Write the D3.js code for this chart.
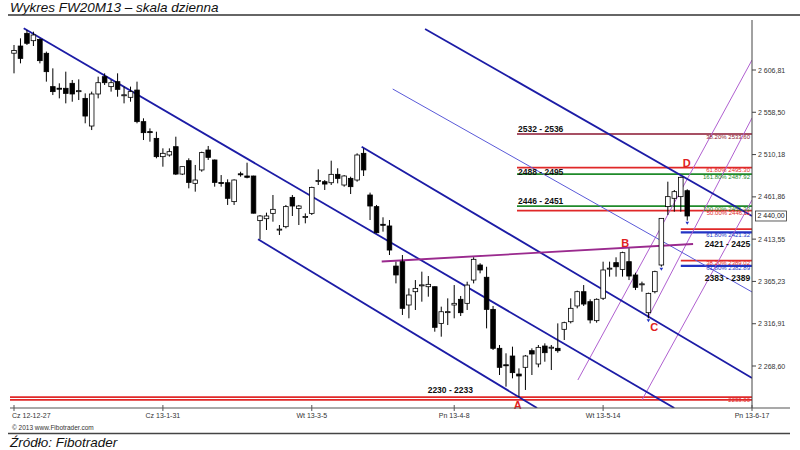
<!DOCTYPE html>
<html><head><meta charset="utf-8">
<script src="https://cdn.jsdelivr.net/npm/d3@7"></script>
<style>
body{margin:0;background:#fff}
svg{display:block}
text{font-family:Arial,"Liberation Sans",sans-serif}
</style>
</head><body>
<svg id="c" width="800" height="450"></svg>
<script>
// ---------- DATA ----------
const openP  = [2626,2634.2,2648.7,2640.3,2641.8,2625.9,2587.8,2586,2585.9,2591.6,2583.2,2574.4,2542.8,2579.4,2599.2,2587.8,2593.5,2578.2,2575.6,2583.9,2547.8,2536.4,2528.7,2507.8,2509.7,2519.2,2487.9,2503.2,2477.3,2492.6,2515.4,2504,2478.2,2478,2456.4,2488.2,2485.7,2485.7,2434.7,2436.9,2443,2424.8,2427.8,2461.3,2448.7,2439.2,2443,2480.4,2479.2,2478,2487.6,2475.4,2483,2481.1,2511.6,2464,2450.7,2430.5,2428.6,2382.8,2387.8,2338.3,2353.5,2361.1,2359.2,2359.2,2317.3,2330.5,2338.3,2344.8,2340.2,2366.8,2384,2370,2333.3,2288.8,2270,2280,2259.4,2267.1,2286.1,2270.9,2291.4,2289.9,2288.8,2310.5,2319.2,2337.2,2353.5,2342.1,2320.4,2346,2380.2,2386.7,2379,2387.8,2372.6,2362.3,2329.5,2353.5,2384,2450.7,2460.2,2462.1,2468.9];
const highP  = [2635.4,2643,2652.5,2650.6,2643,2627.8,2608.7,2591.6,2604.9,2595.4,2596.1,2580.1,2582.1,2599.2,2603,2595.4,2603,2587.8,2587.8,2593.5,2551.6,2540.1,2536.3,2517.3,2517.3,2530.6,2496.4,2505.9,2498.3,2513.5,2520,2504.5,2486.8,2481.9,2481.9,2490.6,2500.9,2486,2441.1,2443.8,2464,2429.7,2452.6,2464,2452.6,2443,2473.5,2493.3,2481.1,2503.2,2494.5,2486.8,2484.9,2511.6,2517.3,2466.7,2452.6,2438.5,2435.4,2387.8,2395.4,2357.3,2366.8,2376.4,2371.4,2359.5,2336.4,2345.9,2361.1,2348.6,2364.9,2392.8,2386,2382,2337.2,2292.6,2283.1,2290.7,2265.9,2281.2,2288.8,2292.6,2294.5,2292.6,2317.3,2319.2,2345.9,2354.7,2361.1,2344.8,2345.9,2387.8,2387.8,2392.8,2399.2,2403,2375.2,2365,2352.4,2377.5,2437.3,2479.2,2469.7,2484.9,2470.5];
const lowP   = [2603,2614.4,2635.4,2634.2,2614.4,2593.5,2578.2,2574.4,2568.7,2570.6,2572.5,2545.9,2538.2,2574.4,2589.7,2582.1,2576.3,2568.7,2570.6,2545.9,2526.8,2524.9,2505.9,2496.3,2507.8,2486.8,2486.8,2471.6,2467.8,2490.6,2504,2473.5,2473.5,2452.6,2452.6,2484.9,2483,2443,2413.3,2424,2433.5,2418.3,2425.9,2440,2429.7,2431.6,2441.1,2475.4,2469.7,2475.4,2477.3,2473.5,2465.1,2479.2,2485.7,2435.4,2420.2,2422.1,2395.4,2363,2326.9,2323.1,2332.6,2342.1,2347.8,2307.8,2302.1,2315.4,2323.1,2325.7,2332.6,2363,2374.5,2311.6,2286.9,2258.3,2245,2254.5,2233,2241.2,2258.3,2267.1,2273.5,2264,2283.8,2298.3,2317.3,2334.5,2337.2,2317.3,2318.1,2344,2370.7,2370.7,2370.7,2366.8,2355.4,2353.5,2323.1,2351.6,2382.1,2441.1,2444.9,2444.9,2434.7];
const closeP = [2629,2620.1,2637.3,2646.8,2617.5,2604.9,2582.1,2585.8,2580.1,2579.4,2583.2,2554.2,2579.4,2592.3,2592.3,2592.3,2584.7,2578.5,2582.1,2547.8,2535.2,2536,2507.8,2511.6,2513.5,2487.9,2496.4,2478.4,2481.1,2512.4,2507,2478.4,2478,2460.2,2481.1,2488,2484.2,2443.2,2440,2440,2447.6,2425,2450.7,2451.4,2451.4,2439.4,2472.7,2480.6,2476.5,2487.6,2483,2485.7,2473.5,2509.7,2492.6,2451.4,2420.9,2430.3,2401.1,2372.6,2334.5,2349.7,2357.3,2361.3,2361.9,2312.8,2330.6,2330.7,2340.2,2329.5,2361.1,2390.5,2378.3,2333.3,2288.8,2267.1,2269.8,2261,2257.2,2280,2282.3,2289.9,2283.8,2290.1,2286.1,2318.1,2334.5,2353.5,2339.4,2321.2,2344.8,2378.3,2380.4,2382,2398.1,2371.4,2358.5,2362.5,2351.6,2376.4,2437.3,2462.1,2467.8,2484.2,2440];

const xTickIdx    = [0,23,46,68,91,114];
const xTickLabels = ["Cz 12-12-27","Cz 13-1-31","Wt 13-3-5","Pn 13-4-8","Wt 13-5-14","Pn 13-6-17"];
const yTicks      = [2268.60,2316.91,2365.23,2413.55,2461.86,2510.18,2558.50,2606.81];
const lastPrice   = 2440.00;

// trend lines as [index1, price1, index2, price2]
const channelLines = [[1.5,2654.5,102,2220.6],[37.7,2413.4,80.8,2220.6],[53.7,2519.2,114,2254.9],[63.5,2653.7,114,2440.0]];
const thinLines    = [[58.5,2585.1,114,2353.2]];
const purpleTrend  = [[56.8,2388,104.9,2408]];
const forkLines    = [[87.1,2252.6,114,2618.2],[97.9,2323.4,114,2552.0],[97.0,2229.7,114,2458.3]];

// horizontal levels: price, kind, start index, tag
const levelPrice = [2533.6,2495.3,2487.92,2451.32,2446.11,2425.0,2421.32,2389.02,2382.89,2233.0,2230.0];
const levelKind  = ["dark","red","green","green","red","red","blue","red","blue","red","red"];
const levelFrom  = [77.7,77.7,77.7,77.7,77.7,103,103,103,103,0,0];
const levelTag   = ["38.20% 2533.60","61.80% 2495.30","161.80% 2487.92","100.00% 2451.32","50.00% 2446.11","","61.80% 2421.32","38.20% 2389.02","61.80% 2382.89","2233.00",""];

// zone labels: text, index, price
const zoneText  = ["2532 - 2536","2488 - 2495","2446 - 2451","2421 - 2425","2383 - 2389","2230 - 2233"];
const zoneIdx   = [77.85,77.85,77.85,106.7,106.7,63.9];
const zonePrice = [2536.5,2486.8,2454,2404.6,2365.7,2238];

// wave points
const waveName = ["A","B","C","D"];
const waveIdx  = [77.8,94.4,98.9,103.9];
const wavePrice= [2219,2405,2309,2496.5];
// small pivot markers (candle indices)
const pivotIdx = [98,100,104];

// ---------- DRAW ----------
const svg = d3.select("#c");
const x = d3.scaleLinear().domain([0,114]).range([14,752]);
const y = d3.scaleLinear().domain([2268.60,2606.81]).range([366,70]);
const colors = {dark:"#8a1630",red:"#e02828",green:"#1f8a2a",blue:"#2233c4"};

svg.append("defs").append("clipPath").attr("id","plot")
  .append("rect").attr("x",8).attr("y",20).attr("width",744).attr("height",388);

// title
svg.append("text").attr("x",10).attr("y",11.5).attr("font-size",13.5).attr("font-style","italic")
  .attr("fill","#111").text("Wykres FW20M13 – skala dzienna");
svg.append("line").attr("x1",8).attr("x2",800).attr("y1",15).attr("y2",15).attr("stroke","#333").attr("stroke-width",1.6);

const g = svg.append("g").attr("clip-path","url(#plot)");

// horizontal levels
levelPrice.forEach((p,k)=>{
  g.append("line").attr("x1",k>=9?10:x(levelFrom[k])).attr("x2",752)
    .attr("y1",y(p)).attr("y2",y(p))
    .attr("stroke",colors[levelKind[k]])
    .attr("stroke-width",levelKind[k]==="dark"?1.5:(levelKind[k]==="blue"?2.2:1.8));
});

// fork (purple parallel) lines
forkLines.forEach(l=>{
  g.append("line").attr("x1",x(l[0])).attr("y1",y(l[1])).attr("x2",x(l[2])).attr("y2",y(l[3]))
   .attr("stroke","#b060d0").attr("stroke-width",1);
});
// thin blue line
thinLines.forEach(l=>{
  g.append("line").attr("x1",x(l[0])).attr("y1",y(l[1])).attr("x2",x(l[2])).attr("y2",y(l[3]))
   .attr("stroke","#5a5ad8").attr("stroke-width",1);
});
// channels
channelLines.forEach(l=>{
  g.append("line").attr("x1",x(l[0])).attr("y1",y(l[1])).attr("x2",x(l[2])).attr("y2",y(l[3]))
   .attr("stroke","#1c1ca6").attr("stroke-width",1.8);
});
// purple trend
purpleTrend.forEach(l=>{
  g.append("line").attr("x1",x(l[0])).attr("y1",y(l[1])).attr("x2",x(l[2])).attr("y2",y(l[3]))
   .attr("stroke","#9a2a8e").attr("stroke-width",1.8);
});

// candles
const idx = d3.range(openP.length);
g.selectAll("line.wick").data(idx).join("line").attr("class","wick")
  .attr("x1",i=>x(i)).attr("x2",i=>x(i)).attr("y1",i=>y(highP[i])).attr("y2",i=>y(lowP[i]))
  .attr("stroke","#000").attr("stroke-width",1);
g.selectAll("rect.body").data(idx).join("rect").attr("class","body")
  .attr("x",i=>x(i)-2.3).attr("width",4.6)
  .attr("y",i=>y(Math.max(openP[i],closeP[i])))
  .attr("height",i=>Math.max(1,Math.abs(y(openP[i])-y(closeP[i]))))
  .attr("fill",i=>closeP[i]>=openP[i]?"#fff":"#000")
  .attr("stroke","#000").attr("stroke-width",0.8);
// pivot markers
g.selectAll("path.piv").data(pivotIdx).join("path").attr("class","piv")
  .attr("d",i=>`M${x(i)-1.8},${y(lowP[i])+1}L${x(i)+1.8},${y(lowP[i])+1}L${x(i)},${y(lowP[i])+4}Z`)
  .attr("fill","#2233c4");

// level tags
levelPrice.forEach((p,k)=>{
  if(!levelTag[k]) return;
  svg.append("text").attr("x",750).attr("y",y(p)+4.5).attr("text-anchor","end")
    .attr("font-size",6).attr("fill",colors[levelKind[k]]).text(levelTag[k]);
});
// zone labels
zoneText.forEach((t,k)=>{
  svg.append("text").attr("x",x(zoneIdx[k])).attr("y",y(zonePrice[k]))
    .attr("font-size",8.5).attr("font-weight","bold").attr("fill","#111").text(t);
});
// wave letters
waveName.forEach((t,k)=>{
  svg.append("text").attr("x",x(waveIdx[k])).attr("y",y(wavePrice[k])).attr("text-anchor","middle")
    .attr("font-size",11).attr("font-weight","bold").attr("fill","#e02020").text(t);
});

// axes
svg.append("line").attr("x1",752).attr("x2",752).attr("y1",20).attr("y2",408).attr("stroke","#444").attr("stroke-width",1);
svg.append("line").attr("x1",10).attr("x2",790).attr("y1",408).attr("y2",408).attr("stroke","#555").attr("stroke-width",1.2);
const fmt = v=>{const s=v.toFixed(2).replace(".",","); return s.slice(0,1)+" "+s.slice(1);};
yTicks.forEach(v=>{
  svg.append("line").attr("x1",752).attr("x2",756).attr("y1",y(v)).attr("y2",y(v)).attr("stroke","#444");
  svg.append("text").attr("x",758).attr("y",y(v)+2.5).attr("font-size",7).attr("fill","#333").text(fmt(v));
});
xTickIdx.forEach((v,k)=>{
  svg.append("line").attr("x1",x(v)).attr("x2",x(v)).attr("y1",405).attr("y2",411).attr("stroke","#555");
  svg.append("text").attr("x",k===0?x(v)-2:x(v)).attr("y",418).attr("text-anchor",k===0?"start":"middle")
    .attr("font-size",7).attr("fill","#333").text(xTickLabels[k]);
});
// last price box
svg.append("rect").attr("x",755.5).attr("y",y(lastPrice)-5).attr("width",31).attr("height",10)
  .attr("fill","#fff").attr("stroke","#333").attr("stroke-width",0.8);
svg.append("text").attr("x",757.5).attr("y",y(lastPrice)+2.5).attr("font-size",7).attr("fill","#222").text(fmt(lastPrice));

// footer
svg.append("text").attr("x",12).attr("y",430).attr("font-size",6.5).attr("fill","#333").text("© 2013 www.Fibotrader.com");
svg.append("line").attr("x1",8).attr("x2",790).attr("y1",433.5).attr("y2",433.5).attr("stroke","#444").attr("stroke-width",1.6);
svg.append("text").attr("x",10).attr("y",447).attr("font-size",13.5).attr("font-style","italic").attr("fill","#111").text("Źródło: Fibotrader");
</script>
</body></html>
